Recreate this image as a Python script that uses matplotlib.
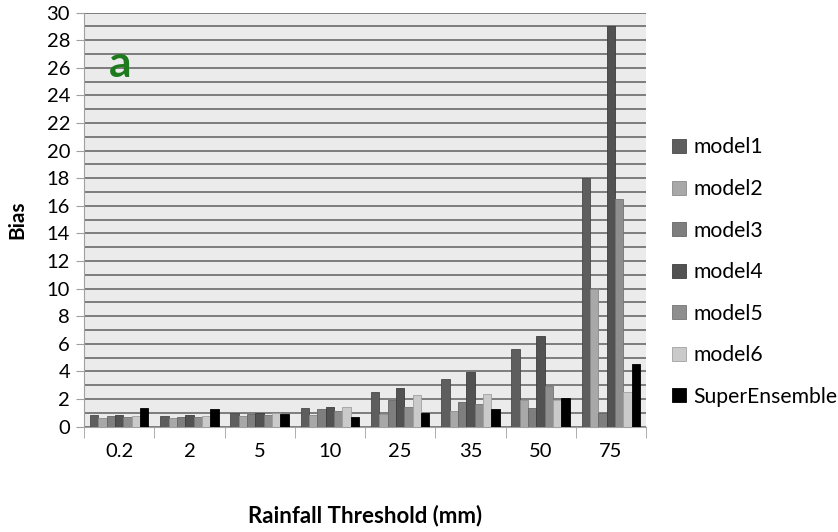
import matplotlib
matplotlib.use("Agg")
import matplotlib.pyplot as plt
import numpy as np
from matplotlib.patches import Patch

categories = ["0.2", "2", "5", "10", "25", "35", "50", "75"]
series_names = ["model1", "model2", "model3", "model4", "model5", "model6", "SuperEnsemble"]
model1 = [0.83, 0.78, 0.98, 1.34, 2.52, 3.44, 5.6, 18.0]
model2 = [0.6, 0.6, 0.76, 0.81, 0.88, 1.12, 1.92, 10.0]
model3 = [0.74, 0.71, 0.9, 1.25, 1.92, 1.78, 1.36, 0.96]
model4 = [0.83, 0.83, 0.98, 1.44, 2.79, 3.95, 6.58, 29.0]
model5 = [0.69, 0.69, 0.83, 1.1, 1.39, 1.65, 2.93, 16.5]
model6 = [0.74, 0.76, 1.0, 1.44, 2.26, 2.38, 1.92, 2.5]
superens = [1.34, 1.25, 0.88, 0.71, 0.96, 1.25, 2.09, 4.5]
series = [model1, model2, model3, model4, model5, model6, superens]
colors = ["#5e5e5e", "#a8a8a8", "#7e7e7e", "#525252", "#8e8e8e", "#cacaca", "#000000"]
edges = ["#4a4a4a", "#8a8a8a", "#666666", "#3e3e3e", "#747474", "#a0a0a0", "#000000"]

plt.rcParams['font.family'] = ['Lato', 'DejaVu Sans']

fig = plt.figure(figsize=(8.38, 5.32), dpi=100)
ax = fig.add_axes([84/838, 1-426.5/532, (646-84)/838, (426.5-12.5)/532])
ax.set_facecolor("#ebebeb")

n = len(series)
x = np.arange(len(categories))
group_w = 0.83
bw = group_w / n
for i, (vals, c, ec) in enumerate(zip(series, colors, edges)):
    ax.bar(x - group_w/2 + bw*(i+0.5), vals, width=bw, color=c, edgecolor=ec,
           linewidth=0.6, label=series_names[i], zorder=3)

ax.set_xlim(-0.5, len(categories)-0.5)
ax.set_ylim(0, 30)
ax.set_yticks(np.arange(0, 31, 2))
ax.set_yticks(np.arange(0, 31, 1), minor=True)
ax.grid(axis='y', which='both', color='#6a6a6a', linewidth=1.2, zorder=1)
ax.set_xticks(x)
ax.set_xticklabels(categories, fontsize=14.5)
ax.set_xticks(np.arange(-0.5, len(categories), 1), minor=True)
ax.tick_params(axis='x', which='major', length=0, pad=12)
ax.tick_params(axis='x', which='minor', length=8, color='#a0a0a0')
ax.tick_params(axis='y', which='major', length=6, color='#a0a0a0', labelsize=14.5, pad=4)
ax.tick_params(axis='y', which='minor', length=0)
for s in ['top', 'right']:
    ax.spines[s].set_visible(False)
for s in ['left', 'bottom']:
    ax.spines[s].set_color('#a0a0a0')

ax.set_xlabel("Rainfall Threshold (mm)", fontsize=16, fontweight='bold', labelpad=32)
ax.set_ylabel("Bias", fontsize=15, fontweight='bold', labelpad=14)

ax.text(0.045, 0.875, "a", transform=ax.transAxes, fontsize=32, fontweight='bold',
        color="#1d7a1d", ha='left', va='center')

handles = [Patch(facecolor=c, edgecolor=ec, linewidth=0.6) for c, ec in zip(colors, edges)]
leg = fig.legend(handles, series_names, loc='upper left', bbox_to_anchor=(664/838, 1-129/532),
                 frameon=False, fontsize=15.2, handlelength=0.65, handleheight=0.65,
                 handletextpad=0.35, labelspacing=1.02, borderaxespad=0)

fig.savefig("out.png", dpi=100)
